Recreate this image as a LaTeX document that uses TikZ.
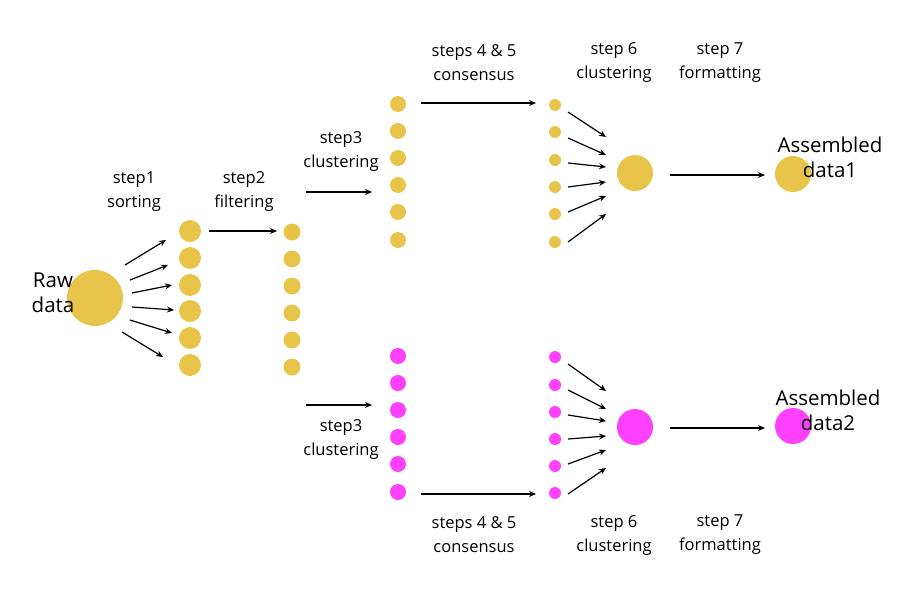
\documentclass[tikz,border=0pt]{standalone}
\usepackage{fontspec}
\setmainfont{Open Sans}
\usetikzlibrary{arrows.meta}
\definecolor{ye}{HTML}{E8C44A}
\definecolor{mg}{HTML}{FF40FF}
\begin{document}
\begin{tikzpicture}[x=1pt,y=-1pt,
  ar/.style={-{Stealth[length=7pt,width=6pt]},line width=1.2pt},
  lb/.style={align=center,font=\fontsize{16.5}{24}\selectfont},
  bl/.style={align=center,font=\fontsize{20.5}{25}\selectfont},
  dot/.style={circle,inner sep=0pt,minimum size=#1,draw=none}]
\useasboundingbox (0,0) rectangle (900,600);
\node[dot=56pt,fill=ye] (raw) at (95,298) {};
\node[bl] (rawt) at (53,293) {Raw\\data};
\foreach \y [count=\i] in {231,258,285,311,338,365} \node[dot=22pt,fill=ye] (a\i) at (190,\y) {};
\foreach \y [count=\i] in {232,259,286,313,340,367} \node[dot=17pt,fill=ye] (b\i) at (292,\y) {};
\foreach \y [count=\i] in {104,131,158,185,212,240} \node[dot=16pt,fill=ye] (c\i) at (398,\y) {};
\foreach \y [count=\i] in {105,132,160,187,214,242} \node[dot=12pt,fill=ye] (d\i) at (555,\y) {};
\foreach \y [count=\i] in {356,383,410,437,464,492} \node[dot=16pt,fill=mg] (e\i) at (398,\y) {};
\foreach \y [count=\i] in {357,385,412,439,466,493} \node[dot=12pt,fill=mg] (f\i) at (555,\y) {};
\node[dot=36pt,fill=ye] (g) at (635,173) {};
\node[dot=36pt,fill=mg] (h) at (635,427) {};
\node[dot=36pt,fill=ye] (o1) at (793,174) {};
\node[dot=36pt,fill=mg] (o2) at (793,426) {};
\node[bl] at (830,157) {Assembled\\data1};
\node[bl] at (828,410) {Assembled\\data2};
\node[lb] at (134,192) {step1\\sorting};
\node[lb] at (244,192) {step2\\filtering};
\node[lb] at (341,152) {step3\\clustering};
\node[lb] at (341,440) {step3\\clustering};
\node[lb] at (474,63) {steps 4 \& 5\\consensus};
\node[lb] at (614,63) {step 6\\clustering};
\node[lb] at (720,63) {step 7\\formatting};
\node[lb] at (474,535) {steps 4 \& 5\\consensus};
\node[lb] at (614,535) {step 6\\clustering};
\node[lb] at (720,535) {step 7\\formatting};
% raw to col1
\coordinate (r1) at (125,265); \coordinate (s1) at (166,240);
\coordinate (r2) at (130,280); \coordinate (s2) at (168,265);
\coordinate (r3) at (132,293); \coordinate (s3) at (172,285);
\coordinate (r4) at (132,307); \coordinate (s4) at (174,310);
\coordinate (r5) at (130,320); \coordinate (s5) at (172,333);
\coordinate (r6) at (122,332); \coordinate (s6) at (163,357);
\foreach \i in {1,...,6} \draw[ar] (r\i) -- (s\i);
\coordinate (p1) at (209,231); \coordinate (q1) at (277,231);
\draw[ar] (p1) -- (q1);
\coordinate (p2) at (306,192); \coordinate (q2) at (372,192);
\draw[ar] (p2) -- (q2);
\coordinate (p3) at (306,405); \coordinate (q3) at (372,405);
\draw[ar] (p3) -- (q3);
\coordinate (p4) at (421,103); \coordinate (q4) at (536,103);
\draw[ar] (p4) -- (q4);
\coordinate (p5) at (421,494); \coordinate (q5) at (536,494);
\draw[ar] (p5) -- (q5);
\coordinate (p6) at (670,175); \coordinate (q6) at (765,175);
\draw[ar] (p6) -- (q6);
\coordinate (p7) at (670,428); \coordinate (q7) at (765,428);
\draw[ar] (p7) -- (q7);
% converging arrows
\foreach \ys/\ye [count=\i] in {112/137,138/155,163/167,187/182,212/196,242/214}{
  \coordinate (u\i) at (568,\ys); \coordinate (v\i) at (606,\ye);
  \draw[ar] (u\i) -- (v\i);
  \coordinate (uu\i) at (568,\ys+252); \coordinate (vv\i) at (606,\ye+254);
  \draw[ar] (uu\i) -- (vv\i);}
\end{tikzpicture}
\end{document}
